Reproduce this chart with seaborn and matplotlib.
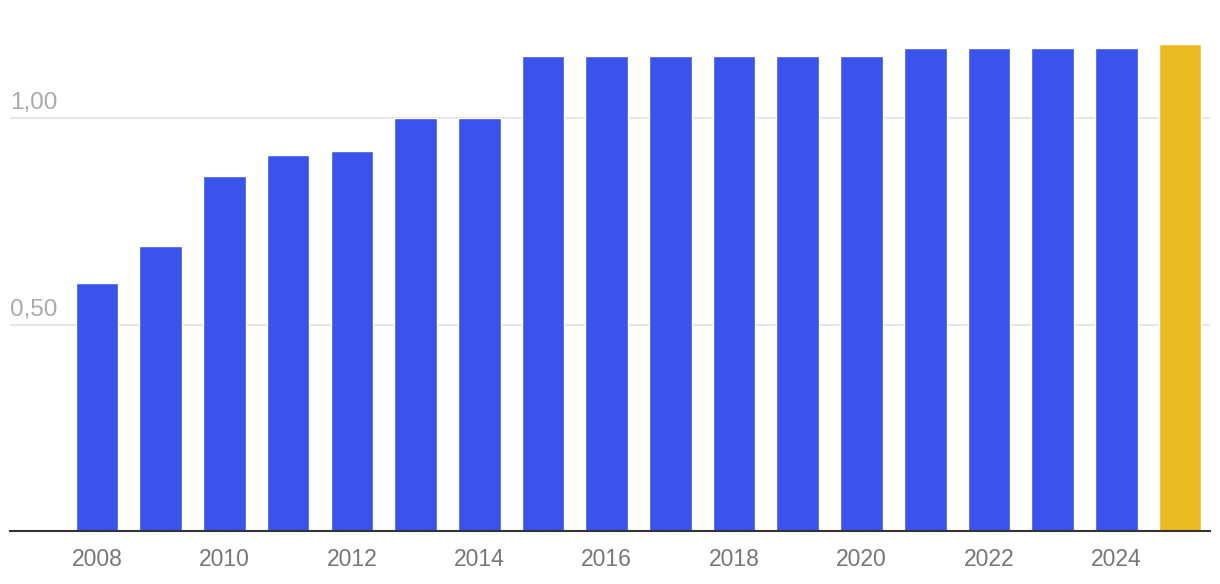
import numpy as np
import matplotlib
matplotlib.use("Agg")
import matplotlib.pyplot as plt
import matplotlib.transforms as mtransforms
import seaborn as sns

# data
years = [str(y) for y in range(2008, 2026)]
values = [0.60, 0.69, 0.86, 0.91, 0.92, 1.00, 1.00, 1.15, 1.15, 1.15,
          1.15, 1.15, 1.15, 1.17, 1.17, 1.17, 1.17, 1.18]
y_ticks = [0.5, 1.0]
y_tick_labels = ["0,50", "1,00"]

blue = "#3A53EC"
gold = "#EABC22"
colors = [blue] * (len(years) - 1) + [gold]

sns.set_style("white")
plt.rcParams["font.family"] = ["Liberation Sans", "DejaVu Sans"]

fig = plt.figure(figsize=(12.2, 5.84), dpi=100)
ax = fig.add_axes([10 / 1220, 53 / 584, 1200 / 1220, 531 / 584])

# gridlines behind bars
for t in y_ticks:
    ax.axhline(t, color="#e6e6e6", linewidth=1.5, zorder=0)

sns.barplot(x=years, y=values, hue=years, palette=colors, legend=False,
            width=0.67, saturation=1, ax=ax, zorder=2)

ax.set_xlim(-1.366, 17.47)
ax.set_ylim(0, 1.286)

for s in ["top", "right", "left"]:
    ax.spines[s].set_visible(False)
ax.spines["bottom"].set_color("#333333")
ax.spines["bottom"].set_linewidth(1.5)
ax.spines["bottom"].set_zorder(3)

# y labels above gridlines, at left
trans = mtransforms.blended_transform_factory(ax.transAxes, ax.transData)
offset = mtransforms.ScaledTranslation(0, 9 / 100, fig.dpi_scale_trans)
for t, lab in zip(y_ticks, y_tick_labels):
    ax.text(0, t, lab, transform=trans + offset, ha="left", va="baseline",
            fontsize=17.5, color="#aaaaaa")
ax.set_yticks([])

ax.set_xticks(range(0, len(years), 2))
ax.set_xticklabels(years[::2])
ax.tick_params(axis="x", length=0, pad=12, labelsize=16.5, labelcolor="#777777")
ax.set_xlabel("")
ax.set_ylabel("")

fig.savefig("out.png", dpi=100, facecolor="white")
